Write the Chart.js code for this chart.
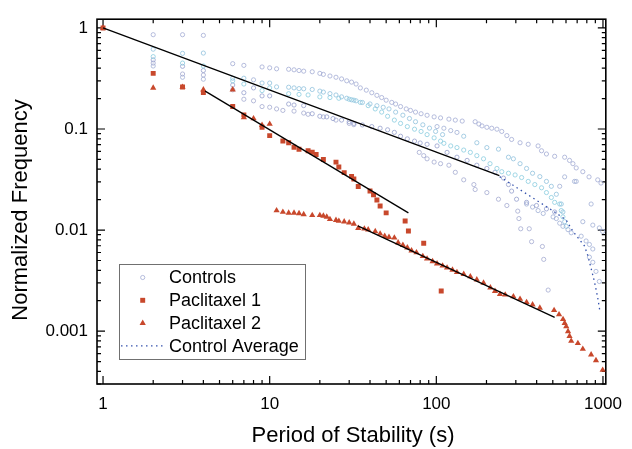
<!DOCTYPE html>
<html>
<head>
<meta charset="utf-8">
<script src="https://cdn.jsdelivr.net/npm/chart.js@4.4.0/dist/chart.umd.min.js"></script>
<style>
html, body { margin: 0; padding: 0; background: #fff; }
#wrap { width: 632px; height: 449px; }
</style>
</head>
<body>
<div id="wrap"><canvas id="chart" width="632" height="449"></canvas></div>
<script>
// axis ranges and labelled ticks
const xTickValues = [1, 10, 100, 1000]
const yTickValues = [0.001, 0.01, 0.1, 1]

// control experiments (hollow circles)
const ctrl1X = [2,3,4,6,7,9,10,11,13,14,15,16,18,20,21,23,25,27,29,31,33,35,38,41,44,47,50,54,57,61,66,70,75,81,88,97,106,119,130,143,171,180,188,201,215,231,247,265,283,318,356,408,428,458,513,589,630,660,691,757,825,930,973]
const ctrl1Y = [0.857,0.857,0.844,0.443,0.426,0.411,0.403,0.394,0.39,0.385,0.379,0.3735,0.3685,0.355,0.347,0.3345,0.325,0.313,0.2996,0.291,0.2786,0.255,0.2424,0.2285,0.2153,0.2047,0.1928,0.1833,0.1766,0.1667,0.158,0.1527,0.147,0.1416,0.1367,0.1318,0.1288,0.1252,0.1225,0.1198,0.118,0.112,0.1073,0.104,0.1018,0.0996,0.0946,0.0861,0.0788,0.0731,0.0706,0.068,0.0609,0.0566,0.0537,0.0526,0.0489,0.0454,0.0412,0.0378,0.0336,0.0314,0.0292]

const ctrl2X = [2,3,4,6,7,9,10,11,13,14,15,16,18,20,21,23,25,27,29,31,33,36,40,44,48,52,57,63,69,75,83,91,99,109,146,175,201,236,271,290,318,348,378,418,458,490,525,562,575,589,602]
const ctrl2Y = [0.616,0.56,0.564,0.318,0.318,0.285,0.285,0.261,0.259,0.255,0.251,0.25,0.246,0.237,0.232,0.224,0.217,0.208,0.2015,0.1945,0.19,0.183,0.177,0.17,0.164,0.158,0.147,0.137,0.127,0.118,0.11,0.102,0.0946,0.088,0.0848,0.0731,0.0655,0.0632,0.0526,0.0507,0.0454,0.0407,0.0365,0.0338,0.0303,0.0271,0.0226,0.0181,0.0151,0.0121,0.0109]

const ctrl3X = [2,3,4,6,7,9,10,13,15,17,20,23,26,30,32,35,39,43,47,51,56,61,67,74,81,88,97,106,111,122,133,146,160,175,192,210,231,247,271,297,325,356,390,428,458,490,513,550,562,575]
const ctrl3Y = [0.52,0.449,0.42,0.2996,0.2786,0.24,0.255,0.2235,0.22,0.2172,0.2078,0.2047,0.2015,0.197,0.1928,0.1833,0.1704,0.158,0.147,0.1337,0.1225,0.1136,0.1057,0.0996,0.0946,0.088,0.0817,0.0759,0.0722,0.068,0.0655,0.0619,0.0587,0.0545,0.0507,0.0454,0.0407,0.0378,0.0365,0.0351,0.0331,0.0303,0.0282,0.0262,0.0235,0.021,0.0188,0.0181,0.0156,0.0135]

const ctrl4X = [2,3,4,6,7,8,9,10,13,14,16,18,20,22,24,27,30,32,36,41,46,51,56,61,67,74,80,88,101,116,133,153,175,201,225,253,271,283,303,348,399,458,513]
const ctrl4Y = [0.483,0.417,0.379,0.2725,0.2285,0.255,0.2125,0.2125,0.1766,0.1727,0.1704,0.1416,0.1337,0.1318,0.1268,0.1225,0.118,0.1136,0.1097,0.1057,0.1018,0.0982,0.0926,0.0848,0.0799,0.0759,0.0727,0.0706,0.068,0.0587,0.0526,0.0489,0.0438,0.0407,0.0373,0.0327,0.0282,0.0243,0.0202,0.0188,0.0175,0.0162,0.0151]

const ctrl5X = [2,3,4,6,7,8,9,10,11,12,14,16,17,21,25,30,32,79,84,88,97,106,119,130,146,168,171,201,236,265,308,313,321,361,373,433,441,469]
const ctrl5Y = [0.449,0.35,0.342,0.244,0.197,0.19,0.1667,0.1642,0.158,0.1527,0.1503,0.1438,0.1398,0.1318,0.1225,0.1136,0.1104,0.0587,0.0545,0.0507,0.0471,0.0454,0.0438,0.0373,0.0314,0.0282,0.0252,0.0235,0.0202,0.0175,0.0154,0.013,0.0103,0.0103,0.00768,0.00688,0.00513,0.00255]

const ctrl6X = [2,3,4,8,101,111,122,133,348,378,408,438,502,525,550,575,617,645,740,792,829,869,829,869,908,951,757,869,951,996,849,691,550,589,675]
const ctrl6Y = [0.42,0.325,0.311,0.3065,0.1057,0.1018,0.0965,0.0925,0.0181,0.0169,0.0156,0.0146,0.0135,0.013,0.0117,0.0109,0.0101,0.0094,0.0087,0.0078,0.0072,0.0065,0.0054,0.0048,0.0039,0.0031,0.0121,0.0112,0.0105,0.0097,0.0181,0.0303,0.0271,0.0336,0.0303]

// paclitaxel runs
const pac1X = [1,2,3,4,6,7,9,10,12,13,14,15,17,18,19,21,25,26,28,31,32,34,40,42,44,46,50,65,68,84,107]
const pac1Y = [1,0.355,0.26,0.23,0.167,0.138,0.104,0.086,0.076,0.073,0.066,0.063,0.061,0.059,0.056,0.05,0.047,0.042,0.037,0.034,0.032,0.027,0.0244,0.0224,0.0198,0.0173,0.0148,0.0123,0.0098,0.0074,0.0025]

const pac2X = [1,2,3,4,6,7,8,9,10,11,12,13,14,15,16,18,20,21,22,23,25,26,28,30,32,34,37,39,43,46,49,52,56,59,63,67,71,76,83,88,95,101,109,116,125,133,146,160,175,192,211,225,241,259,290,318,348,378,418,509,545,576,589,602,617,630,645,707,757,849,908,996]
const pac2Y = [1,0.255,0.26,0.245,0.245,0.13,0.127,0.109,0.112,0.0156,0.0151,0.0148,0.0148,0.0146,0.0143,0.014,0.014,0.0138,0.0135,0.0128,0.01255,0.0123,0.0121,0.01185,0.0115,0.01045,0.0103,0.0101,0.0097,0.0092,0.0087,0.0085,0.0084,0.0075,0.0071,0.0067,0.00625,0.006,0.0055,0.0052,0.0049,0.00466,0.00443,0.00424,0.00403,0.00382,0.00366,0.00347,0.00323,0.003,0.00269,0.00249,0.00232,0.00229,0.0022,0.00208,0.00193,0.00183,0.0017,0.00161,0.00146,0.00131,0.0012,0.00111,0.000995,0.000891,0.000798,0.000759,0.000665,0.000586,0.000514,0.000412]

// power-law fits (end points)
const fitCtrlX = [1, 239]
const fitCtrlY = [1, 0.0346]
const fitPac1X = [4.1, 68]
const fitPac1Y = [0.237, 0.0148]
const fitPac2X = [33.8, 513]
const fitPac2Y = [0.011, 0.00137]

// control average (visible tail)
const avgX = [240,348,513,602,660,722,774,811,849,888,930,960]
const avgY = [0.0338,0.0228,0.0151,0.01256,0.00972,0.00807,0.00698,0.0056,0.00417,0.00311,0.00215,0.00155]


const FONT = '"Liberation Sans", Arial, sans-serif'
const RED = '#c8482c'
const AVG_BLUE = '#3552ad'

function pts(xs, ys){
    return xs.map((v, i) => ({x: v, y: ys[i]}))
}

const ctrlSets = [
    [ctrl1X, ctrl1Y, '#a3acd4'],
    [ctrl2X, ctrl2Y, '#90c2dd'],
    [ctrl3X, ctrl3Y, '#8acde0'],
    [ctrl4X, ctrl4Y, '#969fcd'],
    [ctrl5X, ctrl5Y, '#a5abd1'],
    [ctrl6X, ctrl6Y, '#a1b0d6']
]

let datasets = []
ctrlSets.forEach(([xs, ys, c], i) => {
    datasets.push({
        label: 'Controls',
        data: pts(xs, ys),
        pointStyle: 'circle',
        pointRadius: 2.1,
        borderWidth: 0.8,
        borderColor: c,
        backgroundColor: 'rgba(255,255,255,0)',
        order: 20 + i
    })
})

datasets.push({
    label: 'Control Average',
    data: pts(avgX, avgY),
    showLine: true,
    pointRadius: 0,
    borderColor: AVG_BLUE,
    borderWidth: 1.3,
    borderDash: [1.5, 3.5],
    order: 5
})
datasets.push({
    label: 'Paclitaxel 1',
    data: pts(pac1X, pac1Y),
    pointStyle: 'rect',
    pointRadius: 3.5,
    borderWidth: 0,
    backgroundColor: RED,
    borderColor: RED,
    order: 3
})
datasets.push({
    label: 'Paclitaxel 2',
    data: pts(pac2X, pac2Y),
    pointStyle: 'triangle',
    pointRadius: 3.6,
    borderWidth: 0,
    backgroundColor: RED,
    borderColor: RED,
    order: 2
})
const fits = [[fitCtrlX, fitCtrlY], [fitPac1X, fitPac1Y], [fitPac2X, fitPac2Y]]
fits.forEach(([xs, ys]) => {
    datasets.push({
        label: 'fit',
        data: pts(xs, ys),
        showLine: true,
        pointRadius: 0,
        borderColor: '#000',
        borderWidth: 1.3,
        order: 0
    })
})

// box round the plot with inward ticks on all four sides
const frame = {
    id: 'frame',
    beforeDatasetsDraw(chart){
        const {ctx, chartArea: a, scales} = chart
        const xs = scales.x, ys = scales.y
        ctx.save()
        ctx.strokeStyle = '#000'
        ctx.lineWidth = 1.2
        ctx.beginPath()
        for (let e = -4; e <= 3; e++){
            for (let m = 1; m <= 9; m++){
                const v = m * Math.pow(10, e)
                const len = m === 1 ? 8 : 4
                const px = xs.getPixelForValue(v)
                if (px >= a.left - 0.5 && px <= a.right + 0.5){
                    ctx.moveTo(px, a.bottom); ctx.lineTo(px, a.bottom - len)
                    ctx.moveTo(px, a.top); ctx.lineTo(px, a.top + len)
                }
                const py = ys.getPixelForValue(v)
                if (py >= a.top - 0.5 && py <= a.bottom + 0.5){
                    ctx.moveTo(a.left, py); ctx.lineTo(a.left + len, py)
                    ctx.moveTo(a.right, py); ctx.lineTo(a.right - len, py)
                }
            }
        }
        ctx.stroke()
        ctx.lineWidth = 1.6
        ctx.strokeRect(a.left, a.top, a.right - a.left, a.bottom - a.top)
        ctx.restore()
    }
}

// axis titles and the framed legend
const overlay = {
    id: 'overlay',
    afterDraw(chart){
        const ctx = chart.ctx
        ctx.save()
        ctx.fillStyle = '#000'
        ctx.font = '22px ' + FONT
        ctx.textAlign = 'center'
        ctx.textBaseline = 'middle'
        ctx.fillText('Period of Stability (s)', 353, 436)
        ctx.translate(21, 210)
        ctx.rotate(-Math.PI / 2)
        ctx.fillText('Normalized Frequency', 0, 0)
        ctx.restore()

        ctx.save()
        ctx.fillStyle = '#fff'
        ctx.fillRect(119.5, 264.5, 186, 95)
        ctx.strokeStyle = '#707070'
        ctx.lineWidth = 1
        ctx.strokeRect(119.5, 264.5, 186, 95)
        const rows = ['Controls', 'Paclitaxel 1', 'Paclitaxel 2', 'Control Average']
        ctx.font = '18px ' + FONT
        ctx.textAlign = 'left'
        ctx.textBaseline = 'middle'
        rows.forEach((t, i) => {
            const y = 277.5 + i * 22.8
            ctx.fillStyle = '#000'
            ctx.fillText(t, 169, y + 1)
            const sx = 142.7
            if (i === 0){
                ctx.strokeStyle = ctrlSets[0][2]
                ctx.lineWidth = 0.8
                ctx.fillStyle = 'rgba(255,255,255,0)'
                Chart.helpers.drawPoint(ctx, {pointStyle: 'circle', radius: 2.1, borderWidth: 0.8}, sx, y)
            } else if (i === 1){
                ctx.fillStyle = RED
                ctx.strokeStyle = RED
                Chart.helpers.drawPoint(ctx, {pointStyle: 'rect', radius: 3.5, borderWidth: 0}, sx, y)
            } else if (i === 2){
                ctx.fillStyle = RED
                ctx.strokeStyle = RED
                Chart.helpers.drawPoint(ctx, {pointStyle: 'triangle', radius: 3.6, borderWidth: 0}, sx, y)
            } else {
                ctx.strokeStyle = AVG_BLUE
                ctx.lineWidth = 1.3
                ctx.setLineDash([1.5, 3.5])
                ctx.beginPath()
                ctx.moveTo(121, y); ctx.lineTo(164, y)
                ctx.stroke()
                ctx.setLineDash([])
            }
        })
        ctx.restore()
    }
}

let ctx = document.getElementById('chart').getContext('2d')
window.chart = new Chart(ctx, {
    type: 'scatter',
    data: {datasets: datasets},
    plugins: [frame, overlay],
    options: {
        responsive: false,
        animation: false,
        devicePixelRatio: 1,
        events: [],
        layout: {padding: {left: 0, right: 22, top: 9, bottom: 0}},
        plugins: {
            legend: {display: false},
            tooltip: {enabled: false}
        },
        scales: {
            x: {
                type: 'logarithmic',
                position: 'bottom',
                min: 0.92,
                max: 1040,
                grid: {display: false, drawTicks: false},
                border: {display: false},
                afterBuildTicks: s => { s.ticks = xTickValues.map(v => ({value: v})) },
                afterFit: s => { s.height = 65 },
                ticks: {
                    color: '#000',
                    font: {family: FONT, size: 17},
                    padding: 10,
                    autoSkip: false,
                    maxRotation: 0,
                    callback: v => String(v)
                }
            },
            y: {
                type: 'logarithmic',
                position: 'left',
                min: 0.000315,
                max: 1.22,
                grid: {display: false, drawTicks: false},
                border: {display: false},
                afterBuildTicks: s => { s.ticks = yTickValues.map(v => ({value: v})) },
                afterFit: s => { s.width = 97 },
                ticks: {
                    color: '#000',
                    font: {family: FONT, size: 17},
                    padding: 9,
                    autoSkip: false,
                    callback: v => String(v)
                }
            }
        }
    }
})
</script>
</body>
</html>
